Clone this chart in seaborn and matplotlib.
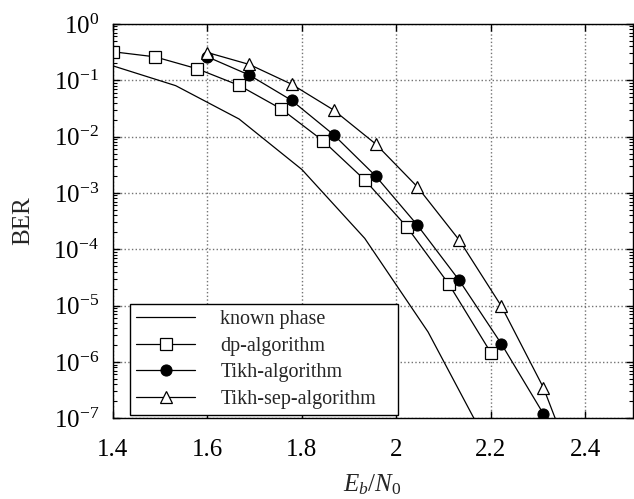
import numpy as np
import pandas as pd
import seaborn as sns
import matplotlib
matplotlib.use("Agg")
import matplotlib.pyplot as plt
from matplotlib.ticker import LogLocator, FixedLocator, FuncFormatter

# values
known_x = [1.4, 1.533, 1.667, 1.8, 1.933, 2.067, 2.2]
known_ber = [1.8e-1, 8.0e-2, 2.05e-2, 2.6e-3, 1.56e-4, 3.4e-6, 2.7e-8]

dp_x = [1.40, 1.489, 1.578, 1.667, 1.756, 1.844, 1.933, 2.022, 2.111, 2.200]
dp_ber = [3.2e-1, 2.6e-1, 1.6e-1, 8.1e-2, 3.1e-2, 8.5e-3, 1.7e-3, 2.5e-4, 2.4e-5, 1.45e-6]

tikh_x = [1.60, 1.689, 1.778, 1.867, 1.956, 2.044, 2.133, 2.222, 2.311]
tikh_ber = [2.6e-1, 1.23e-1, 4.4e-2, 1.08e-2, 2.0e-3, 2.7e-4, 2.8e-5, 2.1e-6, 1.2e-7]

sep_x = [1.60, 1.689, 1.778, 1.867, 1.956, 2.044, 2.133, 2.222, 2.311, 2.400]
sep_ber = [3.1e-1, 1.9e-1, 8.5e-2, 2.96e-2, 7.4e-3, 1.29e-3, 1.45e-4, 9.8e-6, 3.5e-7, 4e-9]

x_ticks = [1.4, 1.6, 1.8, 2.0, 2.2, 2.4]
x_tick_labels = ["1.4", "1.6", "1.8", "2", "2.2", "2.4"]

sns.set_style("ticks")
plt.rcParams["font.family"] = ["Liberation Serif", "DejaVu Serif"]
plt.rcParams["mathtext.fontset"] = "custom"
plt.rcParams["mathtext.rm"] = "Liberation Serif"
plt.rcParams["mathtext.it"] = "Liberation Serif:italic"
plt.rcParams["axes.edgecolor"] = "black"
plt.rcParams["axes.linewidth"] = 1.0

fig = plt.figure(figsize=(6.34, 4.99), dpi=100)
ax = fig.add_axes([0.178, 0.1617, 0.820, 0.7905])

lw = 0.9
sns.lineplot(x=known_x, y=known_ber, ax=ax, color="black", lw=lw,
             label="known phase", estimator=None, sort=False)
sns.lineplot(x=dp_x, y=dp_ber, ax=ax, color="black", lw=lw, marker="s",
             markersize=8, markerfacecolor="white", markeredgecolor="black",
             markeredgewidth=0.9, label="dp-algorithm", estimator=None, sort=False)
sns.lineplot(x=tikh_x, y=tikh_ber, ax=ax, color="black", lw=lw, marker="o",
             markersize=8, markerfacecolor="black", markeredgecolor="black",
             label="Tikh-algorithm", estimator=None, sort=False)
sns.lineplot(x=sep_x, y=sep_ber, ax=ax, color="black", lw=lw, marker="^",
             markersize=8, markerfacecolor="white", markeredgecolor="black",
             markeredgewidth=0.9, label="Tikh-sep-algorithm", estimator=None, sort=False)

ax.set_yscale("log")
ax.set_xlim(1.4, 2.5)
ax.set_ylim(1e-7, 1)

ax.xaxis.set_major_locator(FixedLocator(x_ticks))
ax.set_xticklabels(x_tick_labels)
ax.yaxis.set_major_locator(LogLocator(base=10, numticks=20))
ax.yaxis.set_minor_locator(LogLocator(base=10, subs=np.arange(2, 10), numticks=20))
ax.yaxis.set_major_formatter(FuncFormatter(
    lambda v, p: r"$\mathregular{10^{%d}}$" % int(round(np.log10(v)))))

ax.tick_params(which="both", direction="in", top=True, right=True,
               labelsize=18, colors="black")
ax.tick_params(which="major", length=5, width=1)
ax.tick_params(which="minor", length=3, width=0.8)
ax.tick_params(axis="x", pad=15)
ax.tick_params(axis="y", pad=10)

ax.grid(True, which="major", linestyle=":", color="0.45", linewidth=1.0)

ax.set_xlabel(r"$E_b/N_0$", fontsize=18, labelpad=8)
ax.set_ylabel("BER", fontsize=18, labelpad=14)

leg = ax.legend(loc="lower left", bbox_to_anchor=(0.033, 0.008, 0.515, 0.2),
                mode="expand", fontsize=14.5,
                frameon=True, fancybox=False, framealpha=1, edgecolor="black",
                handlelength=2.95, handletextpad=1.23, labelspacing=0.375,
                borderpad=0.3, borderaxespad=0)
leg.get_frame().set_linewidth(1.0)

fig.savefig("out.png", dpi=100)
